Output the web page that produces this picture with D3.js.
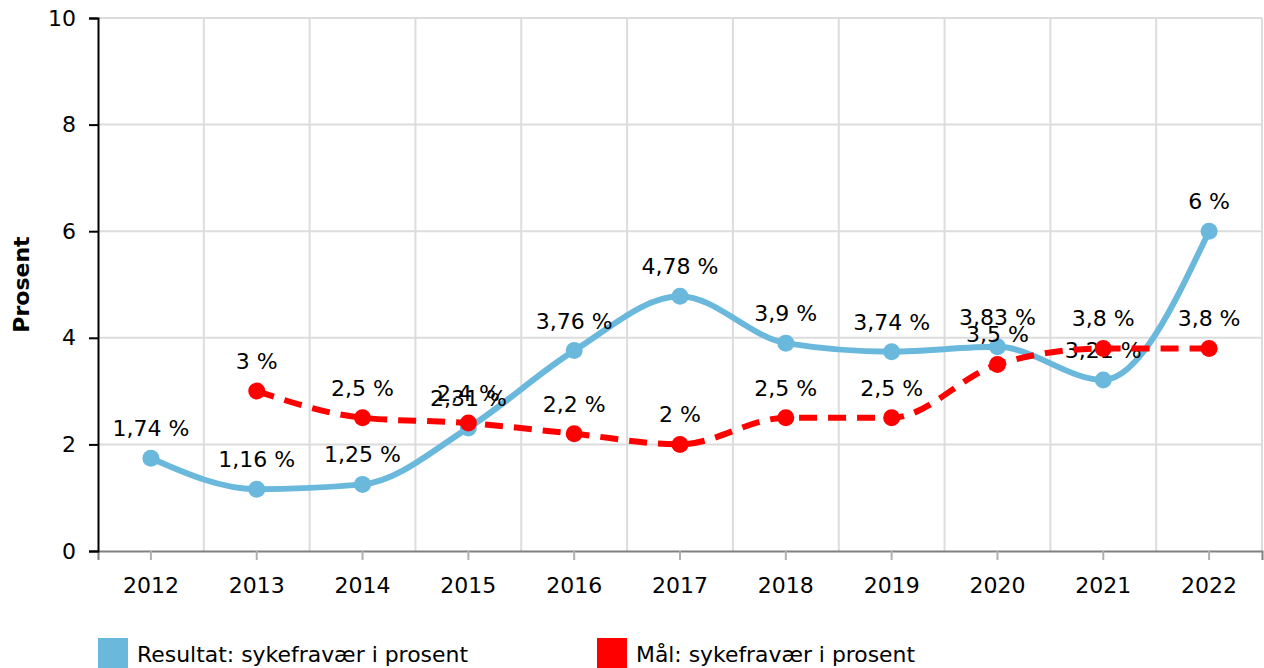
<!DOCTYPE html>
<html><head><meta charset="utf-8">
<script src="https://cdn.jsdelivr.net/npm/d3@7"></script>
<style>body{margin:0;background:#fff}svg{display:block}text{font-family:"DejaVu Sans",Verdana,sans-serif}</style>
</head><body><svg id="c" width="1264" height="668"></svg>
<script>
const categories = ["2012","2013","2014","2015","2016","2017","2018","2019","2020","2021","2022"];
const resultat = [1.74,1.16,1.25,2.31,3.76,4.78,3.9,3.74,3.83,3.21,6];
const maal = [null,3,2.5,2.4,2.2,2,2.5,2.5,3.5,3.8,3.8];
const yTicks = [0,2,4,6,8,10];
const seriesNames = ["Resultat: sykefravær i prosent","Mål: sykefravær i prosent"];
const colors = ["#6bb8dd","#ff0000"];

const svg = d3.select("#c");
const L=98,R=1262,T=18,B=551;
const FS=22;
const x = d3.scaleBand().domain(categories).range([L,R]);
const y = d3.scaleLinear().domain([0,10]).range([B,T]);
const cx = d => x(d)+x.bandwidth()/2;

// grid
svg.append("g").selectAll("line").data(yTicks.filter(v=>v>0)).join("line")
 .attr("x1",L).attr("x2",R).attr("y1",d=>y(d)).attr("y2",d=>y(d))
 .attr("stroke","#dcdcdc").attr("stroke-width",2);
svg.append("g").selectAll("line").data(categories).join("line")
 .attr("x1",d=>x(d)+x.bandwidth()).attr("x2",d=>x(d)+x.bandwidth())
 .attr("y1",T).attr("y2",B).attr("stroke","#dcdcdc").attr("stroke-width",2);

// x axis
const xa = svg.append("g").attr("transform",`translate(0,${B})`).call(d3.axisBottom(x).tickSize(9).tickPadding(17));
xa.select(".domain").attr("stroke","#808080").attr("stroke-width",2);
xa.selectAll(".tick line").attr("stroke","#b0b0b0").attr("stroke-width",2);
xa.selectAll("text").attr("font-size",FS).attr("fill","#000").attr("font-family","DejaVu Sans");

// y axis
const ya = svg.append("g").attr("transform",`translate(${L},0)`).call(d3.axisLeft(y).tickValues(yTicks).tickSize(9).tickPadding(13));
ya.select(".domain").attr("stroke","#000").attr("stroke-width",2);
ya.selectAll(".tick line").attr("stroke","#000").attr("stroke-width",2);
ya.selectAll("text").attr("font-size",FS).attr("fill","#000").attr("font-family","DejaVu Sans");

svg.append("text").attr("transform",`translate(29,${(T+B)/2}) rotate(-90)`)
 .attr("text-anchor","middle").attr("font-size",22).attr("font-weight","bold").text("Prosent");

const line = d3.line().defined(d=>d.v!=null).x(d=>cx(d.c)).y(d=>y(d.v)).curve(d3.curveMonotoneX);
const fmt = v => String(v).replace(".",",")+" %";

[resultat,maal].forEach((vals,si)=>{
  const data = categories.map((c,i)=>({c,v:vals[i]}));
  const g = svg.append("g");
  g.append("path").datum(data).attr("d",line).attr("fill","none")
   .attr("stroke",colors[si]).attr("stroke-width",6)
   .attr("stroke-dasharray",si===1?"18,11":null);
  const pts = data.filter(d=>d.v!=null);
  g.selectAll("circle").data(pts).join("circle")
   .attr("cx",d=>cx(d.c)).attr("cy",d=>y(d.v)).attr("r",8.5).attr("fill",colors[si]);
  g.selectAll("text").data(pts).join("text")
   .attr("x",d=>cx(d.c)).attr("y",d=>y(d.v)-22).attr("text-anchor","middle")
   .attr("font-size",FS).attr("fill","#000").text(d=>fmt(d.v));
});

// legend
const lg = [{x:98},{x:597}];
seriesNames.forEach((n,i)=>{
  svg.append("rect").attr("x",lg[i].x).attr("y",638).attr("width",30).attr("height",30).attr("fill",colors[i]);
  svg.append("text").attr("x",lg[i].x+39).attr("y",662).attr("font-size",21)
   .attr("font-family","DejaVu Sans Condensed, DejaVu Sans")
   .attr("textLength",i===0?331:279).attr("lengthAdjust","spacingAndGlyphs").text(n);
});
</script></body></html>
